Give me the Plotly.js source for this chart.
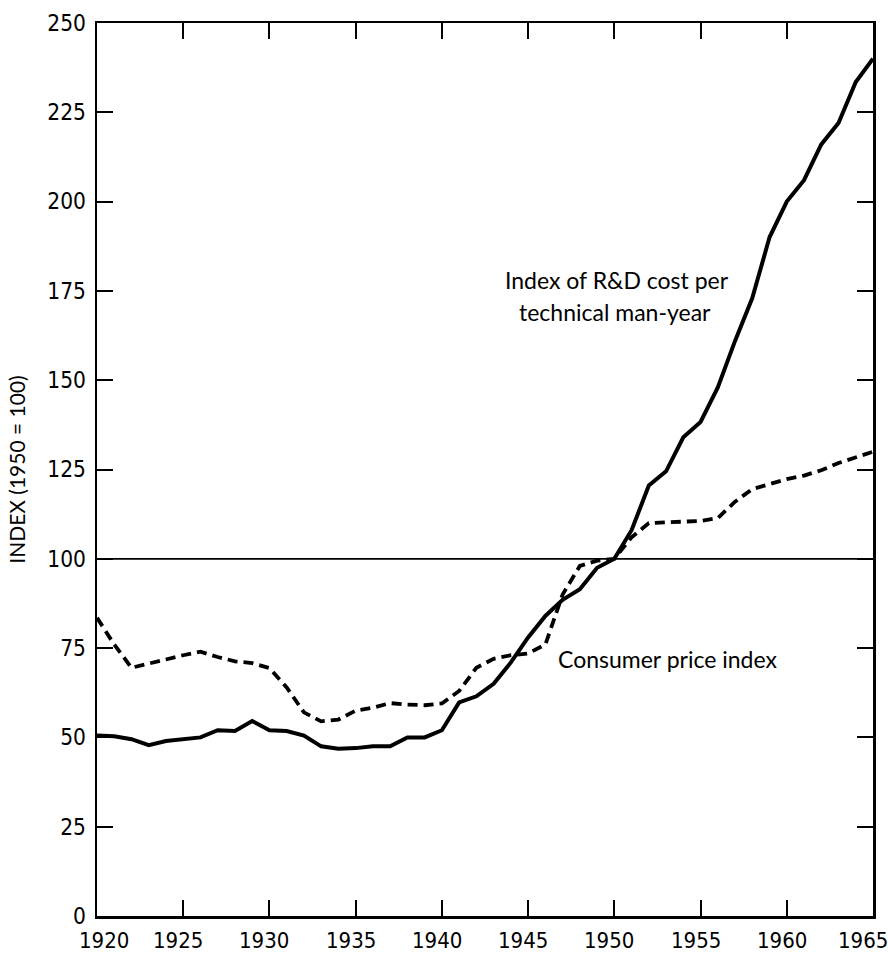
<!DOCTYPE html>
<html>
<head>
<meta charset="utf-8">
<script src="https://cdn.plot.ly/plotly-3.0.1.min.js"></script>
<style>html,body{margin:0;padding:0;background:#fff;}#chart{width:888px;height:956px;}</style>
</head>
<body>
<div id="chart"></div>
<script>
const years = [1920,1921,1922,1923,1924,1925,1926,1927,1928,1929,
               1930,1931,1932,1933,1934,1935,1936,1937,1938,1939,
               1940,1941,1942,1943,1944,1945,1946,1947,1948,1949,
               1950,1951,1952,1953,1954,1955,1956,1957,1958,1959,
               1960,1961,1962,1963,1964,1965];
const rdCostIndex = [50.5,50.3,49.5,47.8,49,49.5,50,52,51.8,54.6,
                     52,51.8,50.5,47.5,46.8,47,47.5,47.5,50,50,
                     52,59.8,61.5,65,71,78,84,88.5,91.5,97.5,
                     100,108,120.5,124.5,134,138.3,148,161,173,190,
                     200,206,216,222,233.5,240];
const cpiIndex = [83.5,76,69.5,70.7,71.7,73,74,72.5,71.3,70.8,
                  69.4,64,57,54.5,55,57.5,58.3,59.6,59.2,59,
                  59.5,63,69.5,72,73,73.5,76,90,98,99.5,
                  100,106,110,110.2,110.4,110.6,111.4,116,119.5,121,
                  122.3,123.3,124.8,126.8,128.5,130];
const xTicks = [1920,1925,1930,1935,1940,1945,1950,1955,1960,1965];
const xTickLabels = ["1920","1925","1930","1935","1940","1945","1950","1955","1960","1965"];
const yTicks = [0,25,50,75,100,125,150,175,200,225,250];
const labelRD1 = "Index of R&D cost per";
const labelRD2 = "technical man-year";
const labelCPI = "Consumer price index";
const yTitle = "INDEX (1950 = 100)";

const FONT = "Lato, 'Open Sans', sans-serif";
const TICKFONT = "'Liberation Sans Narrow', 'DejaVu Sans Condensed', Lato, sans-serif";

const traces = [
  {x: years, y: rdCostIndex, type: 'scatter', mode: 'lines',
   line: {color: '#000', width: 4}, hoverinfo: 'x+y', name: 'R&D cost'},
  {x: years, y: cpiIndex, type: 'scatter', mode: 'lines',
   line: {color: '#000', width: 3.8, dash: '10px,6px'}, hoverinfo: 'x+y', name: 'CPI'}
];

// x tick labels drawn as annotations so the end labels can sit inside the page
const xLabelShift = xTicks.map(function (v, i) {
  if (i === 0) return 7;
  if (i === xTicks.length - 1) return -10;
  return -5;
});
const xLabelAnnotations = xTicks.map(function (v, i) {
  return {x: v, y: 0, xref: 'x', yref: 'y', text: xTickLabels[i], showarrow: false,
          xanchor: 'center', yanchor: 'top', xshift: xLabelShift[i], yshift: -11,
          borderpad: 0, font: {family: TICKFONT, size: 22, color: '#000'}};
});

const layout = {
  width: 888, height: 956,
  margin: {l: 97, r: 15, t: 23, b: 40},
  paper_bgcolor: '#fff', plot_bgcolor: '#fff',
  showlegend: false,
  font: {family: FONT, color: '#000', size: 20},
  xaxis: {
    range: [1920, 1965], tickvals: xTicks, ticktext: xTickLabels, showticklabels: false,
    ticks: 'inside', ticklen: 16, tickwidth: 2,
    tickcolor: '#000', showline: true, linewidth: 2.5, linecolor: '#000', mirror: 'ticks',
    showgrid: false, zeroline: false
  },
  yaxis: {
    range: [0, 250], tickvals: yTicks, ticks: 'inside', ticklen: 16, tickwidth: 2,
    tickcolor: '#000', showline: true, linewidth: 2.5, linecolor: '#000', mirror: 'ticks',
    showgrid: false, zeroline: false, tickfont: {family: TICKFONT, size: 22.5, color: '#000'},
    ticklabelstandoff: 4,
    title: {text: yTitle, font: {family: FONT, size: 21, color: '#000'}, standoff: 16}
  },
  shapes: [
    {type: 'line', xref: 'paper', x0: 0, x1: 1, yref: 'y', y0: 100, y1: 100,
     line: {color: '#000', width: 1.8}}
  ],
  annotations: [
    {x: 1956.74, y: 178.1, xref: 'x', yref: 'y', text: labelRD1, showarrow: false,
     xanchor: 'right', yanchor: 'middle', font: {family: FONT, size: 23, color: '#000'}},
    {x: 1955.7, y: 169.1, xref: 'x', yref: 'y', text: labelRD2, showarrow: false,
     xanchor: 'right', yanchor: 'middle', font: {family: FONT, size: 23, color: '#000'}},
    {x: 1946.6, y: 72, xref: 'x', yref: 'y', text: labelCPI, showarrow: false,
     xanchor: 'left', yanchor: 'middle', font: {family: FONT, size: 23, color: '#000'}}
  ].concat(xLabelAnnotations)
};

Plotly.newPlot('chart', traces, layout, {staticPlot: true, displayModeBar: false});
</script>
</body>
</html>
